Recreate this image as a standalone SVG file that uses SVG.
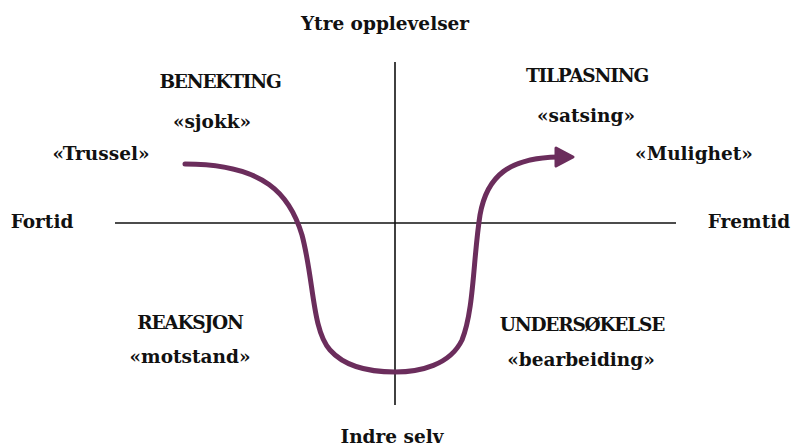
<svg xmlns="http://www.w3.org/2000/svg" width="793" height="447" viewBox="0 0 793 447">
<style>
text{font-family:"DejaVu Serif","Liberation Serif",serif;font-weight:bold;font-size:18.5px;fill:#111;text-anchor:middle}
.caps{letter-spacing:-1.2px}
.ax{stroke:#111;stroke-width:1.6;fill:none}
.curve{stroke:#6b2d5c;stroke-width:5;fill:none;stroke-linecap:round}
</style>
<rect width="793" height="447" fill="#fff"/>
<g id="axes">
<line class="ax" x1="395" y1="62" x2="395" y2="405"/>
<line class="ax" x1="115" y1="223" x2="676" y2="223"/>
</g>
<g id="labels">
<text x="385" y="30">Ytre opplevelser</text>
<text x="392" y="443">Indre selv</text>
<text x="42" y="228">Fortid</text>
<text x="749" y="228">Fremtid</text>
</g>
<g id="q1"><text class="caps" x="220" y="88">BENEKTING</text><text x="212" y="128">«sjokk»</text></g>
<g id="q2"><text class="caps" x="587" y="82">TILPASNING</text><text x="586" y="122">«satsing»</text></g>
<g id="q3"><text class="caps" x="190" y="329">REAKSJON</text><text x="190" y="363">«motstand»</text></g>
<g id="q4"><text class="caps" x="582" y="331">UNDERSØKELSE</text><text x="581" y="366">«bearbeiding»</text></g>
<g id="start"><text x="101" y="160">«Trussel»</text></g>
<g id="end"><text x="694" y="160">«Mulighet»</text></g>
<g id="connectors">
<path class="curve" d="M185,164 C265,164 290,195 302,235 C314,280 312,330 330,350 C345,367 370,372 395,372 C420,372 450,365 462,340 C474,310 473,260 480,215 C487,175 510,158 558,157"/>
<polygon points="556,148 573,157 556,166" fill="#6b2d5c" stroke="#6b2d5c" stroke-width="3" stroke-linejoin="round"/>
</g>
</svg>
